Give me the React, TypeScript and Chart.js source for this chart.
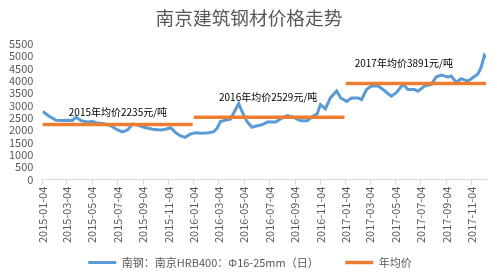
import React, { useEffect, useRef } from "react";
import { Chart, registerables } from "chart.js";

Chart.register(...registerables);

const TITLE = "南京建筑钢材价格走势";
const SERIES_LABEL = "南钢：南京HRB400：Φ16-25mm（日）";
const AVG_LABEL = "年均价";

// daily price (sampled), date strings
const priceDates = [
  "2015-01-05", "2015-01-21", "2015-02-06", "2015-02-21", "2015-03-07", "2015-03-17", "2015-03-26",
  "2015-04-07", "2015-04-23", "2015-05-05", "2015-05-17", "2015-06-02", "2015-06-18", "2015-07-04",
  "2015-07-16", "2015-07-28", "2015-08-09", "2015-08-21", "2015-09-06", "2015-09-26", "2015-10-16",
  "2015-10-28", "2015-11-09", "2015-11-21", "2015-12-03", "2015-12-14", "2015-12-27",
  "2016-01-08", "2016-01-24", "2016-02-09", "2016-02-21", "2016-02-29", "2016-03-08", "2016-03-16",
  "2016-04-01", "2016-04-09", "2016-04-21", "2016-04-29", "2016-05-11", "2016-05-23", "2016-06-05",
  "2016-06-16", "2016-06-29", "2016-07-19", "2016-07-31", "2016-08-16", "2016-09-01", "2016-09-17",
  "2016-10-03", "2016-10-19", "2016-10-27", "2016-11-04", "2016-11-16", "2016-11-28", "2016-12-13",
  "2016-12-23",
  "2017-01-06", "2017-01-18", "2017-02-03", "2017-02-11", "2017-02-23", "2017-03-07", "2017-03-23",
  "2017-04-04", "2017-04-16", "2017-04-24", "2017-05-06", "2017-05-22", "2017-06-03", "2017-06-19",
  "2017-06-27", "2017-07-13", "2017-07-29", "2017-08-10", "2017-08-22", "2017-09-07", "2017-09-15",
  "2017-09-27", "2017-10-09", "2017-10-25", "2017-11-06", "2017-11-18", "2017-11-26", "2017-12-04",
  "2017-12-08",
];
const priceValues = [
  2760, 2560, 2400, 2390, 2400, 2390, 2530,
  2390, 2330, 2350, 2290, 2260, 2180, 2010,
  1930, 2010, 2250, 2210, 2120, 2040, 2010,
  2040, 2100, 1900, 1770, 1710, 1850,
  1900, 1880, 1900, 1940, 2080, 2350, 2390,
  2450, 2700, 3080, 2760, 2350, 2120, 2180,
  2220, 2330, 2330, 2460, 2590, 2520, 2380,
  2380, 2590, 2660, 3040, 2870, 3310, 3590,
  3310,
  3170, 3310, 3310, 3240, 3650, 3790, 3790,
  3650, 3480, 3380, 3520, 3860, 3650, 3650,
  3580, 3790, 3860, 4160, 4240, 4160, 4200,
  3950, 4090, 3990, 4130, 4270, 4540, 5030,
  4930,
];

// yearly averages
const avgYears = ["2015", "2016", "2017"];
const avgValues = [2235, 2529, 3891];
const avgStart = ["2015-01-04", "2016-01-04", "2017-01-04"];
const avgEnd = ["2016-01-01", "2017-01-01", "2017-12-08"];
const avgTexts = ["2015年均价2235元/吨", "2016年均价2529元/吨", "2017年均价3891元/吨"];
const avgTextDates = ["2015-07-05", "2016-07-01", "2017-05-24"];
const avgTextValues = [2720, 3340, 4710];

const tickDates = [
  "2015-01-04", "2015-03-04", "2015-05-04", "2015-07-04", "2015-09-04", "2015-11-04",
  "2016-01-04", "2016-03-04", "2016-05-04", "2016-07-04", "2016-09-04", "2016-11-04",
  "2017-01-04", "2017-03-04", "2017-05-04", "2017-07-04", "2017-09-04", "2017-11-04",
];

const ORIGIN = Date.UTC(2015, 0, 4);
function day(s: string): number {
  const [y, m, d] = s.split("-").map(Number);
  return Math.round((Date.UTC(y, m - 1, d) - ORIGIN) / 86400000);
}
function dateOf(n: number): string {
  const dt = new Date(ORIGIN + n * 86400000);
  const p = (v: number) => String(v).padStart(2, "0");
  return `${dt.getUTCFullYear()}-${p(dt.getUTCMonth() + 1)}-${p(dt.getUTCDate())}`;
}

const FONT = "'Microsoft YaHei', 'Noto Sans CJK SC', sans-serif";
const BLUE = "#5B9BD5";
const ORANGE = "#ED7D31";
const GRAY = "#595959";

export default function App() {
  const ref = useRef<HTMLCanvasElement | null>(null);

  useEffect(() => {
    if (!ref.current) return;
    const priceData = priceDates.map((d, i) => ({ x: day(d), y: priceValues[i] }));
    const avgData: { x: number; y: number | null }[] = [];
    avgYears.forEach((_, i) => {
      if (i > 0) avgData.push({ x: day(avgStart[i]) - 0.5, y: null });
      avgData.push({ x: day(avgStart[i]), y: avgValues[i] });
      avgData.push({ x: day(avgEnd[i]), y: avgValues[i] });
    });

    const annotPlugin = {
      id: "avgText",
      afterLayout(chart: any) {
        if (chart.legend) {
          chart.legend.top += 2;
          chart.legend.bottom += 2;
          chart.legend.left += 7;
          chart.legend.right += 7;
        }
        if (chart.titleBlock) {
          chart.titleBlock.left += 6;
          chart.titleBlock.right += 6;
        }
      },
      afterDatasetsDraw(chart: any) {
        const { ctx, scales } = chart;
        ctx.save();
        ctx.font = `10px ${FONT}`;
        ctx.fillStyle = "#000";
        ctx.textAlign = "center";
        ctx.textBaseline = "middle";
        avgTexts.forEach((t, i) => {
          const x = scales.x.getPixelForValue(day(avgTextDates[i]));
          const y = scales.y.getPixelForValue(avgTextValues[i]);
          ctx.fillText(t, x, y);
        });
        ctx.restore();
      },
    };

    const chart = new Chart(ref.current, {
      type: "line",
      data: {
        datasets: [
          {
            label: SERIES_LABEL,
            data: priceData,
            borderColor: BLUE,
            backgroundColor: BLUE,
            borderWidth: 3,
            pointRadius: 0,
            pointStyle: "line",
            tension: 0,
            order: 2,
          },
          {
            label: AVG_LABEL,
            data: avgData as any,
            borderColor: ORANGE,
            backgroundColor: ORANGE,
            borderWidth: 3.5,
            borderCapStyle: "butt",
            pointRadius: 0,
            pointStyle: "line",
            spanGaps: false,
            order: 1,
          },
        ],
      },
      options: {
        responsive: false,
        animation: false,
        layout: { padding: { left: 0, right: 11, top: 0, bottom: 0 } },
        plugins: {
          title: {
            display: true,
            text: TITLE,
            color: GRAY,
            font: { family: FONT, size: 18.7, weight: "normal" },
            padding: { top: 6.5, bottom: 15 },
          },
          legend: {
            position: "bottom",
            labels: {
              color: GRAY,
              font: { family: FONT, size: 11 },
              usePointStyle: true,
              pointStyleWidth: 28,
              padding: 10,
              sort: (a: any, b: any) => a.datasetIndex - b.datasetIndex,
              generateLabels(chart: any) {
                const items = Chart.defaults.plugins.legend.labels.generateLabels(chart);
                items.forEach((it: any) => {
                  if (it.datasetIndex === 0) it.text = it.text + "\u3000\u3000";
                });
                return items;
              },
            },
          },
          tooltip: { enabled: false },
        },
        scales: {
          x: {
            type: "linear",
            min: 0,
            max: day(priceDates[priceDates.length - 1]),
            afterBuildTicks(scale: any) {
              scale.ticks = tickDates.map((d) => ({ value: day(d) }));
            },
            ticks: {
              autoSkip: false,
              minRotation: 90,
              maxRotation: 90,
              padding: 2,
              color: GRAY,
              font: { family: FONT, size: 11 },
              callback: (v: any) => dateOf(Number(v)),
            },
            grid: {
              drawOnChartArea: false,
              drawTicks: true,
              tickLength: 5,
              color: "#D9D9D9",
            },
            border: { display: true, color: "#D9D9D9" },
          },
          y: {
            min: 0,
            max: 5500,
            ticks: {
              stepSize: 500,
              autoSkip: false,
              padding: 9,
              color: GRAY,
              font: { family: FONT, size: 11 },
              callback: (v: any) => String(v),
            },
            grid: { display: false, drawTicks: false },
            border: { display: false },
          },
        },
      },
      plugins: [annotPlugin],
    } as any);

    return () => chart.destroy();
  }, []);

  return (
    <div style={{ position: "fixed", left: 0, top: 0, width: 497, height: 276, background: "#fff" }}>
      <canvas ref={ref} width={497} height={276} style={{ display: "block" }} />
    </div>
  );
}
